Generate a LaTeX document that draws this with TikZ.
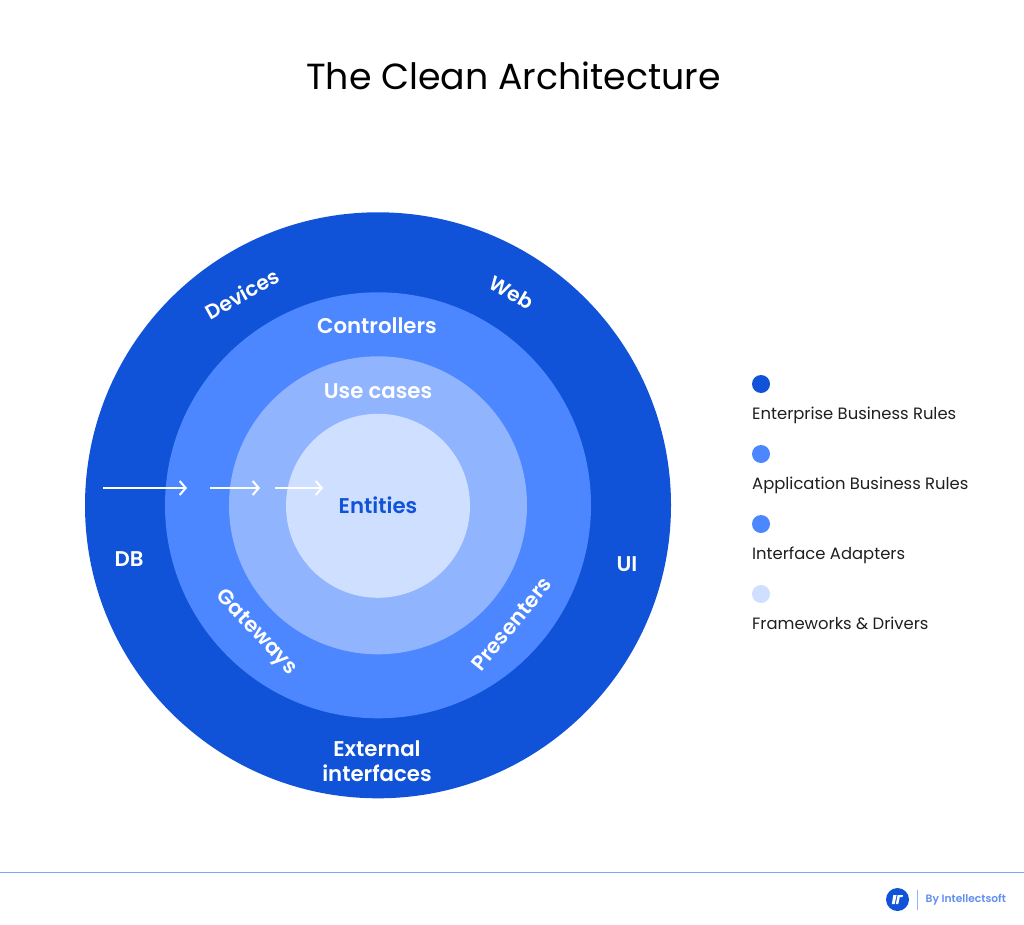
\documentclass[tikz,border=0pt]{standalone}
\usepackage{fontspec}
\setmainfont{Poppins}[BoldFont={Poppins SemiBold}]
\usetikzlibrary{arrows.meta}
\definecolor{cdark}{HTML}{1053D8}
\definecolor{cmid}{HTML}{4C87FF}
\definecolor{clight}{HTML}{91B4FF}
\definecolor{cpale}{HTML}{CFDFFF}
\definecolor{cline}{HTML}{7BA6FF}
\definecolor{cfoot}{HTML}{5F8FEF}
\definecolor{ctext}{HTML}{1F1F1F}
\tikzset{
  ring/.style={circle,inner sep=0pt,minimum size=#1*2pt},
  lab/.style={text=white,font=\fontsize{21.3}{25}\selectfont\bfseries,inner sep=0pt,align=center},
  arclab/.style={lab,font=\fontsize{20.3}{25}\selectfont\bfseries},
  legdot/.style={circle,inner sep=0pt,minimum size=18pt},
  legtext/.style={anchor=base west,inner sep=0pt,text=ctext,font=\fontsize{16.4}{20}\selectfont},
  flow/.style={white,line width=2pt,-{Straight Barb[length=6pt,width=14pt,line width=2pt]}}
}
\begin{document}
\begin{tikzpicture}[x=1pt,y=-1pt]
\useasboundingbox (0,0) rectangle (1024,925);
\fill[white] (0,0) rectangle (1024,925);
\node[inner sep=0pt,text=black,font=\fontsize{36.3}{44}\selectfont] (title) at (513.5,76) {The Clean Architecture};
\node[ring=293,fill=cdark] (r1) at (378,505.3) {};
\node[ring=213,fill=cmid] (r2) at (378,505.3) {};
\node[ring=149,fill=clight] (r3) at (378,505.3) {};
\node[ring=92,fill=cpale] (r4) at (378,505.8) {};
\node[lab,text=cdark] (entities) at (378,505) {Entities};
\node[lab] (use) at (378,391) {Use cases};
\node[lab] (ctrl) at (377,326) {Controllers};
\node[arclab,rotate=29] (devices) at (242,294) {Devices};
\node[arclab,rotate=-30] (web) at (512,292.5) {Web};
\node[lab] (db) at (129,559) {DB};
\node[lab] (ui) at (627,564) {UI};
\node[arclab,font=\fontsize{21}{25}\selectfont\bfseries,rotate=-47] (gate) at (256,633) {Gateways};
\node[arclab,font=\fontsize{21}{25}\selectfont\bfseries,rotate=51] (pres) at (511.5,624) {Presenters};
\node[lab] (ext) at (377,761) {External\\interfaces};
\coordinate (a1s) at (103,488); \coordinate (a1e) at (187,488);
\coordinate (a2s) at (210,488); \coordinate (a2e) at (260,488);
\coordinate (a3s) at (275,488); \coordinate (a3e) at (323,488);
\draw[flow] (a1s) -- (a1e);
\draw[flow] (a2s) -- (a2e);
\draw[flow] (a3s) -- (a3e);
\node[legdot,fill=cdark] (d1) at (761,384) {};
\node[legtext] (t1) at (752,419.5) {Enterprise Business Rules};
\node[legdot,fill=cmid] (d2) at (761,454) {};
\node[legtext] (t2) at (752,489.5) {Application Business Rules};
\node[legdot,fill=cmid] (d3) at (761,524) {};
\node[legtext] (t3) at (752,559.5) {Interface Adapters};
\node[legdot,fill=cpale] (d4) at (761,594) {};
\node[legtext] (t4) at (752,629.5) {Frameworks \& Drivers};
\coordinate (fl) at (0,872.5); \coordinate (fr) at (1024,872.5);
\draw[cline,line width=1pt] (fl) -- (fr);
\node[circle,fill=cdark,inner sep=0pt,minimum size=23pt] (logo) at (897.5,899.5) {};
\fill[white] (893.3,895) -- (896.6,895) -- (894.6,904.2) -- (891.8,904.2) -- cycle;
\fill[white] (897.6,895) -- (903,895) -- (902.5,897) -- (899.8,897) -- (898.2,904.2) -- (895.8,904.2) -- cycle;
\coordinate (s1) at (917,889.5); \coordinate (s2) at (917,909.5);
\draw[clight,line width=1pt] (s1) -- (s2);
\node[anchor=west,inner sep=0pt,text=cfoot,font=\fontsize{10.7}{13}\selectfont\bfseries] (by) at (925.5,900) {By Intellectsoft};
\end{tikzpicture}
\end{document}
